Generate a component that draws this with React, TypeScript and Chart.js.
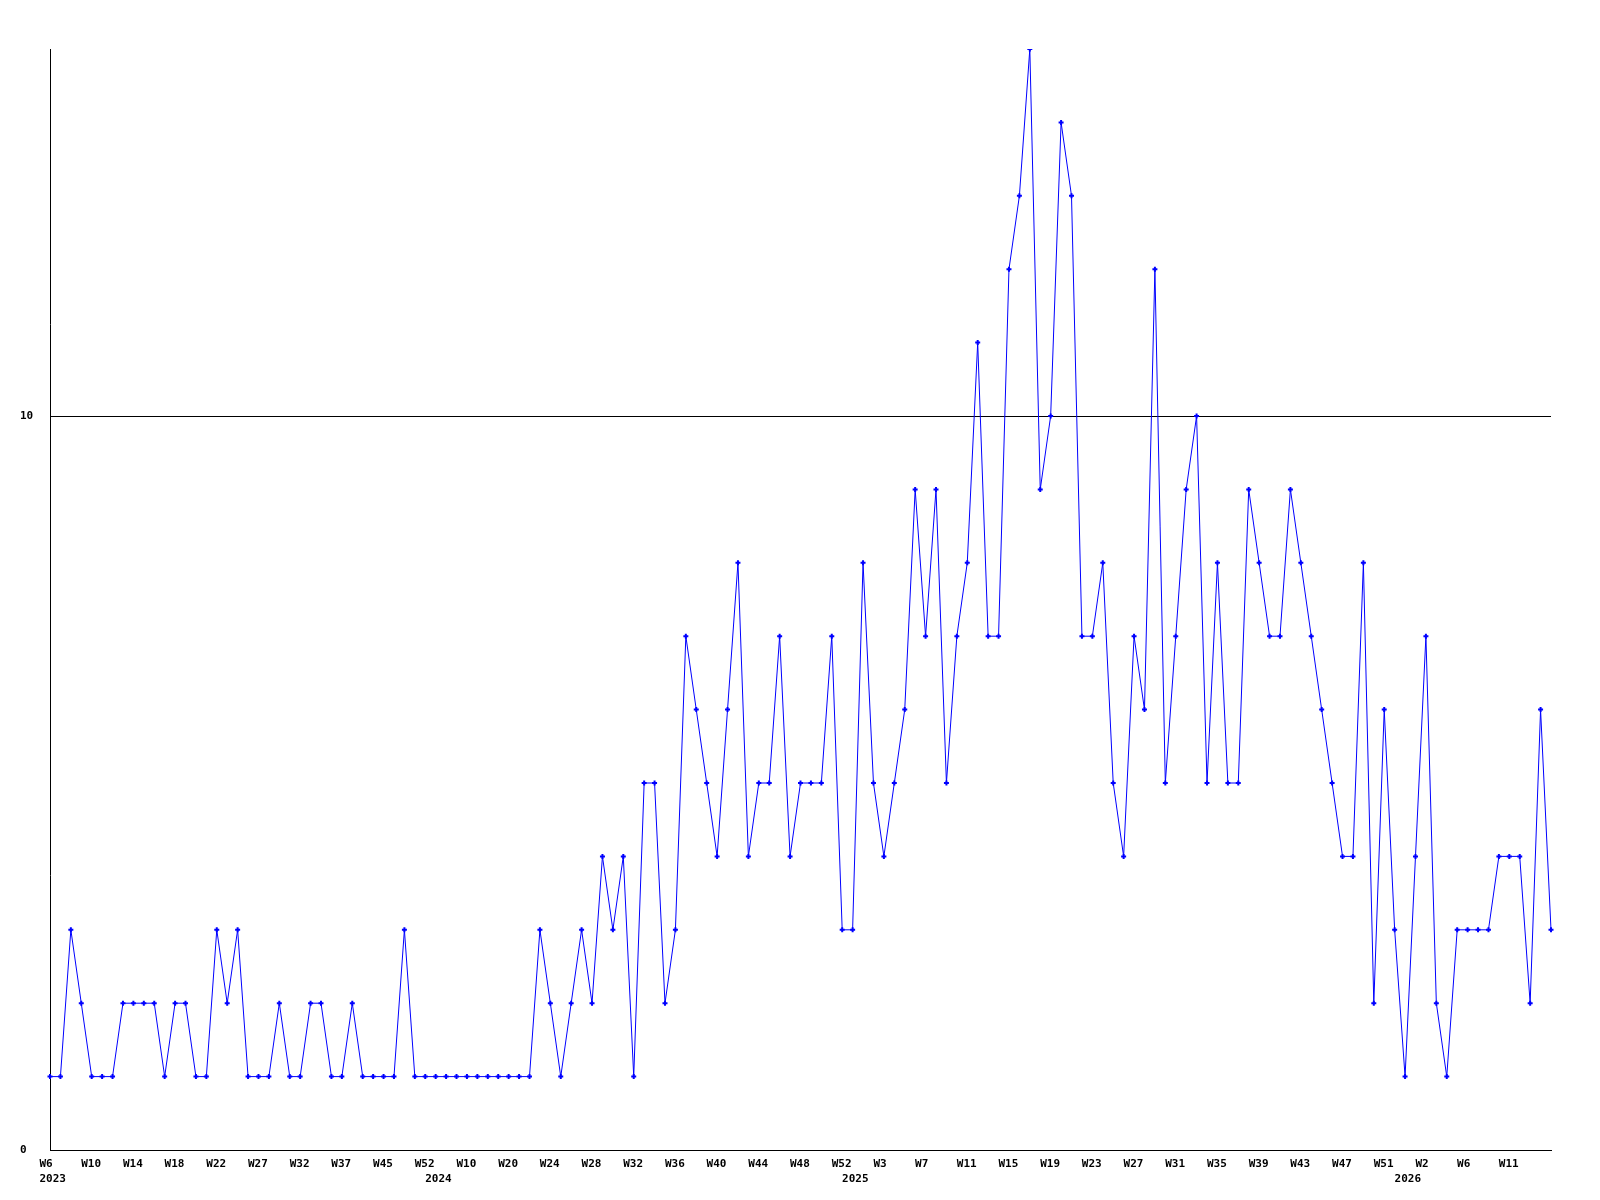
import { useEffect, useRef } from "react";
import { Chart, registerables } from "chart.js";

Chart.register(...registerables);

// One value per week (integers).
const values = [
  1, 1, 3, 2, 1, 1, 1, 2, 2, 2,
  2, 1, 2, 2, 1, 1, 3, 2, 3, 1,
  1, 1, 2, 1, 1, 2, 2, 1, 1, 2,
  1, 1, 1, 1, 3, 1, 1, 1, 1, 1,
  1, 1, 1, 1, 1, 1, 1, 3, 2, 1,
  2, 3, 2, 4, 3, 4, 1, 5, 5, 2,
  3, 7, 6, 5, 4, 6, 8, 4, 5, 5,
  7, 4, 5, 5, 5, 7, 3, 3, 8, 5,
  4, 5, 6, 9, 7, 9, 5, 7, 8, 11,
  7, 7, 12, 13, 15, 9, 10, 14, 13, 7,
  7, 8, 5, 4, 7, 6, 12, 5, 7, 9,
  10, 5, 8, 5, 5, 9, 8, 7, 7, 9,
  8, 7, 6, 5, 4, 4, 8, 2, 6, 3,
  1, 4, 7, 2, 1, 3, 3, 3, 3, 4,
  4, 4, 2, 6, 3,
];

// Week labels shown on every 4th point
const weekTickLabels = [
  "W6", "W10", "W14", "W18", "W22", "W27", "W32", "W37", "W45", "W52",
  "W10", "W20", "W24", "W28", "W32", "W36", "W40", "W44", "W48", "W52",
  "W3", "W7", "W11", "W15", "W19", "W23", "W27", "W31", "W35", "W39",
  "W43", "W47", "W51", "W2", "W6", "W11",
];
const tickEvery = 4;

// Year labels (second line) and the point where each year starts
const yearNames = ["2023", "2024", "2025", "2026"];
const yearStartIdx = [0, 37, 77, 130];

const yTickValues = [0, 10];
const yMax = 15;

const FONT = { family: "'DejaVu Sans Mono', monospace", size: 11, weight: "bold" as const, lineHeight: "15px" };

export default function App() {
  const ref = useRef<HTMLCanvasElement>(null);

  useEffect(() => {
    document.body.style.margin = "0";
    const labels = values.map((_, i) => String(i));
    const chart = new Chart(ref.current!, {
      type: "line",
      data: {
        labels,
        datasets: [
          {
            data: values,
            borderColor: "#0000ff",
            borderWidth: 1,
            tension: 0,
            pointStyle: "cross",
            pointRadius: 2.5,
            pointBorderWidth: 2,
            pointBorderColor: "#0000ff",
            pointBackgroundColor: "#0000ff",
          },
        ],
      },
      options: {
        responsive: false,
        animation: false,
        layout: { padding: { left: 20, top: 49, right: 49, bottom: 0 } },
        plugins: { legend: { display: false }, tooltip: { enabled: false } },
        scales: {
          x: {
            type: "category",
            offset: false,
            grid: { display: false, drawTicks: false },
            border: { display: true, color: "#000", width: 1 },
            ticks: {
              autoSkip: false,
              maxRotation: 0,
              minRotation: 0,
              align: "start",
              labelOffset: -10.5,
              padding: 7,
              color: "#000",
              font: FONT,
              callback: (_v: any, i: number) => {
                const week = i % tickEvery === 0 ? weekTickLabels[i / tickEvery] ?? "" : "";
                const yi = yearStartIdx.indexOf(i);
                if (yi >= 0) return [week, yearNames[yi]];
                return week;
              },
            },
            afterFit: (s: any) => {
              s.height = 50;
            },
          },
          y: {
            min: 0,
            max: yMax,
            afterBuildTicks: (s: any) => {
              s.ticks = yTickValues.map((v) => ({ value: v }));
            },
            grid: { color: "#000", lineWidth: 1, drawTicks: false },
            border: { display: true, color: "#000", width: 1 },
            ticks: {
              crossAlign: "far",
              padding: 0,
              color: "#000",
              font: FONT,
            },
            afterFit: (s: any) => {
              s.width = 30;
            },
          },
        },
      },
    });
    return () => chart.destroy();
  }, []);

  return (
    <div style={{ position: "absolute", left: 0, top: 0, width: 1600, height: 1200, background: "#fff" }}>
      <canvas ref={ref} width={1600} height={1200} style={{ width: 1600, height: 1200 }} />
    </div>
  );
}
